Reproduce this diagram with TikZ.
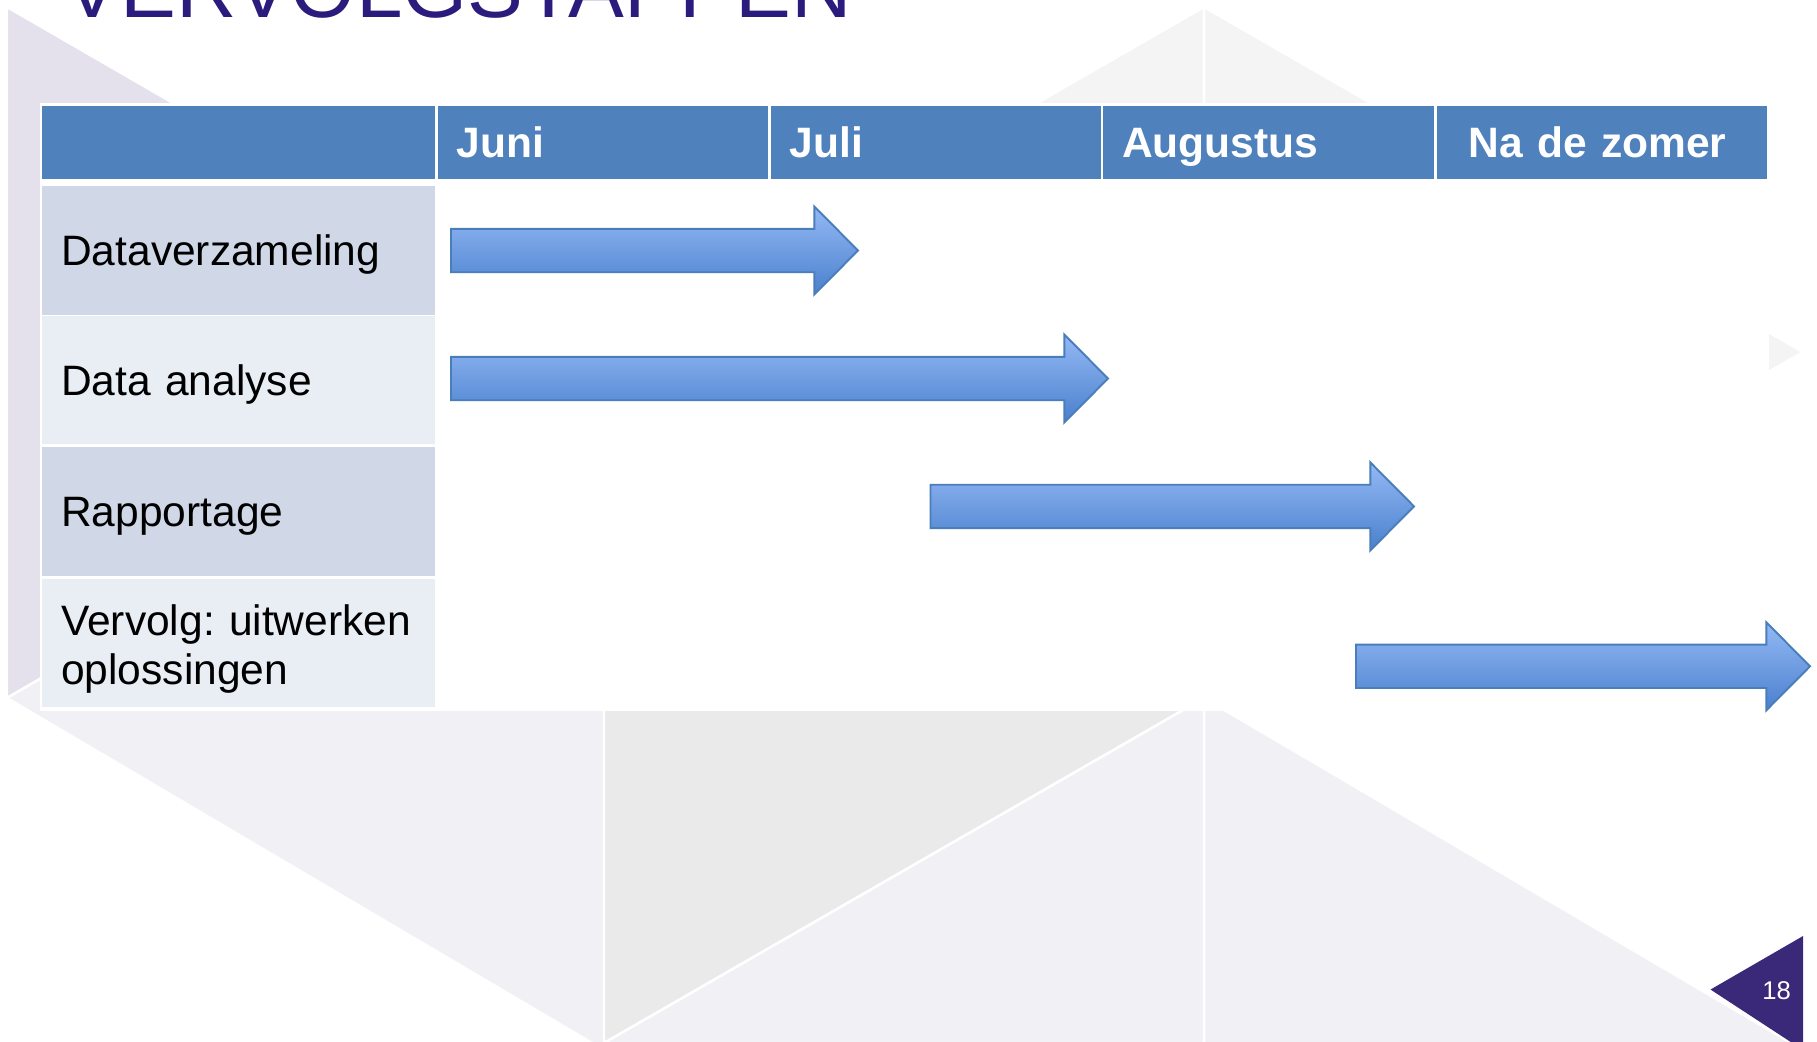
\documentclass[tikz,border=0pt]{standalone}
\usepackage{fontspec}
\setmainfont{Liberation Sans}

\definecolor{hdrblue}{HTML}{4F81BD}
\definecolor{celldark}{HTML}{D0D8E8}
\definecolor{celllight}{HTML}{E9EDF4}
\definecolor{bglav}{HTML}{E4E1EC}
\definecolor{bglight}{HTML}{F1F0F5}
\definecolor{bggray}{HTML}{EAEAEA}
\definecolor{bgtop}{HTML}{F4F4F4}
\definecolor{titlepurple}{HTML}{2A1B7C}
\definecolor{pagepurple}{HTML}{3A2878}
\definecolor{arrowtop}{HTML}{94B9F5}
\definecolor{arrowbot}{HTML}{4A80CD}
\definecolor{arrowline}{HTML}{4A7EBB}

% block arrow: start x, tip x, centre y
\newcommand{\timearrow}[3]{%
  \draw[blockarrow] (#1,#3+0.217) -- (#2-0.437,#3+0.217) -- (#2-0.437,#3+0.44)
    -- (#2,#3) -- (#2-0.437,#3-0.44) -- (#2-0.437,#3-0.217) -- (#1,#3-0.217) -- cycle;}

\begin{document}
\begin{tikzpicture}[
    bgpiece/.style={draw=white, line width=0.7pt, line join=round},
    hdrcell/.style={fill=hdrblue, text=white, font=\bfseries\fontsize{12.1}{13.9}\selectfont,
      anchor=north west, text width=#1, minimum height=0.73cm, inner xsep=0.19cm,
      inner ysep=0pt, text height=0.304cm, text depth=0pt, align=left},
    rowcell/.style={fill=#1, font=\frenchspacing\fontsize{12.1}{13.9}\selectfont, anchor=north west,
      text width=3.55cm, minimum height=1.285cm, inner xsep=0.19cm, inner ysep=0pt,
      text depth=0pt, align=left},
    blockarrow/.style={draw=arrowline, line width=0.55pt, top color=arrowtop,
      bottom color=arrowbot, line join=miter}]
    \useasboundingbox (0,0) rectangle (18.17,-10.41);
    \clip (0,0) rectangle (18.17,-10.41);
    \fill[white] (0,0) rectangle (18.17,-10.41);

    % background triangles
    \filldraw[bgpiece, fill=bglav] (0.07,-0.07) -- (0.07,-6.98) -- (6.04,-3.52) -- cycle;
    \filldraw[bgpiece, fill=bglight] (0.07,-6.98) -- (6.04,-3.52) -- (6.04,-10.5) -- cycle;
    \filldraw[bgpiece, fill=bggray] (6.04,-3.52) -- (12.04,-6.98) -- (6.04,-10.43) -- cycle;
    \filldraw[bgpiece, fill=bglight] (12.04,-6.98) -- (6.04,-10.43) -- (12.04,-10.43) -- cycle;
    \filldraw[bgpiece, fill=bglight] (12.04,-6.98) -- (12.04,-10.5) -- (18.03,-10.5) -- cycle;
    \filldraw[bgpiece, fill=bgtop] (12.04,-0.07) -- (6.04,-3.52) -- (12.04,-6.98) -- cycle;
    \filldraw[bgpiece, fill=bgtop] (12.04,-0.07) -- (18.03,-3.52) -- (12.04,-6.98) -- cycle;

    \node[anchor=base west, text=titlepurple, font=\fontsize{23.8}{28}\selectfont, inner sep=0pt]
      (TT) at (0.64,-0.17) {VERVOLGSTAPPEN};

    % table
    \fill[white] (0.40,-1.03) rectangle (17.69,-7.11);
    \node[hdrcell=3.55cm] (H0) at (0.415,-1.05) {};
    \node[hdrcell=2.925cm] (HJun) at (4.37,-1.05) {Juni};
    \node[hdrcell=2.925cm] (HJul) at (7.70,-1.05) {Juli};
    \node[hdrcell=2.925cm] (HAug) at (11.025,-1.05) {Augustus};
    \node[hdrcell=2.925cm] (HNa) at (14.36,-1.05) {\hspace*{0.13cm}Na de zomer};

    \node[rowcell=celldark] (DV) at (0.415,-1.855) {Dataverzameling};
    \node[rowcell=celllight] (DA) at (0.415,-3.15) {Data analyse};
    \node[rowcell=celldark] (RP) at (0.415,-4.465) {Rapportage};
    \node[rowcell=celllight, text depth=0.46cm] (VU) at (0.415,-5.78) {\mbox{Vervolg: uitwerken}\\oplossingen};

    \timearrow{4.51}{8.58}{-2.505}
    \timearrow{4.51}{11.08}{-3.785}
    \timearrow{9.305}{14.14}{-5.064}
    \timearrow{13.56}{18.10}{-6.663}

    % page number
    \fill[pagepurple] (18.03,-9.36) -- (18.03,-10.5) -- (17.105,-9.895) -- cycle;
    \node[text=white, font=\fontsize{7.3}{8}\selectfont] (PG) at (17.765,-9.91) {18};
\end{tikzpicture}
\end{document}
